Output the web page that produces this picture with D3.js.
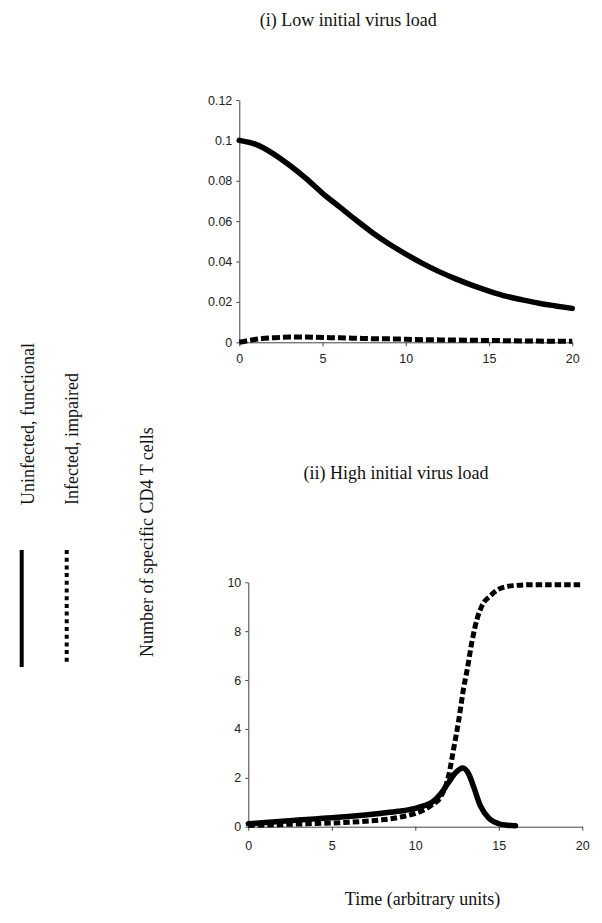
<!DOCTYPE html>
<html>
<head>
<meta charset="utf-8">
<script src="https://cdn.jsdelivr.net/npm/d3@7"></script>
<style>
  html, body { margin: 0; padding: 0; background: #fff; }
  svg { display: block; }
  .serif { font-family: "Liberation Serif", "Times New Roman", serif; fill: #111; }
  .axis text { font-family: "Liberation Sans", Arial, sans-serif; font-size: 12.5px; fill: #222; }
  .axis path, .axis line { stroke: #444; stroke-width: 1; }
</style>
</head>
<body>
<script>
// ---- Data ----
// (i) Low initial virus load
const timeLow = [0,1,2,3,4,5,6,7,8,9,10,11,12,13,14,15,16,17,18,19,20];
const uninfectedLow = [0.1,0.098,0.0936,0.0878,0.0812,0.0738,0.0672,0.0606,0.0543,0.0487,0.0437,0.0391,0.035,0.0314,0.0282,0.0254,0.0229,0.021,0.0193,0.018,0.0168];
const infectedLow = [0,0.0015,0.0022,0.0026,0.0026,0.0024,0.0022,0.002,0.0018,0.0017,0.0015,0.0013,0.0012,0.0011,0.001,0.0009,0.0008,0.0007,0.0006,0.0005,0.0005];

// (ii) High initial virus load
const timeHighU = [0,1,2,3,4,5,6,7,8,9,10,10.5,11,11.5,12,12.4,12.85,13.2,13.5,13.9,14.4,15,15.5,16];
const uninfectedHigh = [0.12,0.17,0.22,0.27,0.32,0.37,0.42,0.48,0.55,0.63,0.75,0.85,1.0,1.33,1.82,2.2,2.4,2.15,1.62,0.85,0.35,0.12,0.06,0.04];
const timeHighI = [0,1,2,3,4,5,6,7,8,9,10,10.5,11,11.5,12,12.3,12.6,12.9,13.1,13.4,13.7,14,14.5,15,15.5,16,17,18,19,20];
const infectedHigh = [0.05,0.07,0.09,0.11,0.13,0.15,0.18,0.22,0.28,0.38,0.55,0.68,0.9,1.2,2.1,3.2,4.35,5.7,6.4,7.6,8.5,9.05,9.45,9.72,9.83,9.87,9.9,9.9,9.9,9.9];

// ticks
const xTicks = [0,5,10,15,20];
const xTickLabels = ["0","5","10","15","20"];
const yTicksLow = [0,0.02,0.04,0.06,0.08,0.1,0.12];
const yTickLabelsLow = ["0","0.02","0.04","0.06","0.08","0.1","0.12"];
const yTicksHigh = [0,2,4,6,8,10];
const yTickLabelsHigh = ["0","2","4","6","8","10"];

// text
const titleLow = "(i) Low initial virus load";
const titleHigh = "(ii) High initial virus load";
const xTitle = "Time (arbitrary units)";
const yTitle = "Number of specific CD4 T cells";
const legendLabels = ["Uninfected, functional", "Infected, impaired"];

// ---- Drawing ----
const W = 602, H = 923;
const svg = d3.select("body").append("svg").attr("width", W).attr("height", H);

function panel(cfg) {
  const x = d3.scaleLinear().domain([0, 20]).range(cfg.xr);
  const y = d3.scaleLinear().domain(cfg.yd).range(cfg.yr);
  const g = svg.append("g");
  g.append("g").attr("class", "axis")
    .attr("transform", `translate(0,${cfg.yr[0]})`)
    .call(d3.axisBottom(x).tickValues(xTicks).tickFormat((d,i) => xTickLabels[i])
      .tickSizeInner(4).tickSizeOuter(0).tickPadding(cfg.xpad));
  g.append("g").attr("class", "axis")
    .attr("transform", `translate(${cfg.xr[0]},0)`)
    .call(d3.axisLeft(y).tickValues(cfg.yt).tickFormat((d,i) => cfg.ytl[i])
      .tickSizeInner(3).tickSizeOuter(0).tickPadding(4));
  const line = d3.line().x(d => x(d[0])).y(d => y(d[1])).curve(d3.curveMonotoneX);
  cfg.series.forEach(s => {
    g.append("path")
      .attr("d", line(s.t.map((t,i) => [t, s.v[i]])))
      .attr("fill", "none").attr("stroke", "#000")
      .attr("stroke-width", s.w)
      .attr("stroke-linejoin", "round")
      .attr("stroke-linecap", s.dash ? "butt" : "round")
      .attr("stroke-dasharray", s.dash || null);
  });
}

panel({
  xr: [239.3, 572.3], yd: [0, 0.12], yr: [342.3, 100],
  yt: yTicksLow, ytl: yTickLabelsLow, xpad: 8,
  series: [
    {t: timeLow, v: infectedLow, w: 5, dash: "8,3"},
    {t: timeLow, v: uninfectedLow, w: 5.5}
  ]
});
panel({
  xr: [248.3, 582.3], yd: [0, 10], yr: [826.7, 582.3],
  yt: yTicksHigh, ytl: yTickLabelsHigh, xpad: 10,
  series: [
    {t: timeHighI, v: infectedHigh, w: 5, dash: "6.5,3"},
    {t: timeHighU, v: uninfectedHigh, w: 5.5}
  ]
});

// titles
const FS = 18;
svg.append("text").attr("class", "serif").attr("x", 348.3).attr("y", 26)
  .attr("text-anchor", "middle").attr("font-size", FS).text(titleLow);
svg.append("text").attr("class", "serif").attr("x", 396).attr("y", 479)
  .attr("text-anchor", "middle").attr("font-size", FS).text(titleHigh);
svg.append("text").attr("class", "serif").attr("x", 422.5).attr("y", 905)
  .attr("text-anchor", "middle").attr("font-size", FS).text(xTitle);

// rotated labels
function vtext(txt, x, y) {
  svg.append("text").attr("class", "serif")
    .attr("transform", `translate(${x},${y}) rotate(-90)`)
    .attr("text-anchor", "start").attr("font-size", FS).text(txt);
}
vtext(legendLabels[0], 34, 505);
vtext(legendLabels[1], 78, 505);
vtext(yTitle, 153, 657);

// legend lines
svg.append("line").attr("x1", 21.7).attr("x2", 21.7).attr("y1", 550).attr("y2", 667)
  .attr("stroke", "#000").attr("stroke-width", 4);
svg.append("line").attr("x1", 66.7).attr("x2", 66.7).attr("y1", 550).attr("y2", 665)
  .attr("stroke", "#000").attr("stroke-width", 4).attr("stroke-dasharray", "4,3.7");
</script>
</body>
</html>
